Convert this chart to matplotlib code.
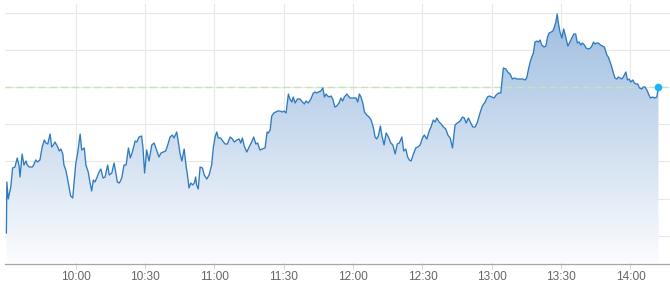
import numpy as np
import matplotlib
matplotlib.use("Agg")
import matplotlib.pyplot as plt
from matplotlib.colors import to_rgba

# minutes since 09:30
times = [0.0, 0.2, 0.8, 1.9, 2.7, 3.7, 4.7, 5.5, 5.9, 6.8, 7.6, 8.5, 9.0, 9.9, 11.2, 11.8, 12.7, 13.5,
         14.5, 15.5, 16.4, 17.1, 17.9, 18.9, 19.6, 20.3, 21.0, 22.0, 22.9, 23.6, 24.4, 24.9, 25.7, 26.4,
         27.1, 27.8, 28.7, 29.3, 30.0, 30.9, 31.9, 32.6, 33.2, 33.7, 34.4, 35.4, 36.2, 36.9, 37.6, 38.3,
         39.1, 40.1, 40.9, 41.8, 42.7, 43.8, 44.5, 45.6, 46.6, 47.3, 48.0, 48.9, 49.9, 50.9, 51.8, 52.8,
         53.6, 54.5, 55.7, 56.4, 57.4, 58.5, 59.1, 59.8, 60.7, 61.7, 62.9, 63.9, 65.0, 66.0, 66.9, 67.9,
         68.9, 69.8, 70.8, 71.8, 72.5, 73.7, 74.4, 75.1, 75.9, 76.9, 77.7, 78.5, 79.0, 79.8, 80.6, 81.3,
         81.9, 82.3, 83.0, 83.8, 84.8, 85.6, 86.7, 87.7, 88.8, 89.5, 90.3, 91.0, 91.7, 92.7, 93.6, 94.6,
         95.6, 96.8, 97.8, 98.6, 99.7, 100.7, 101.4, 102.1, 102.9, 104.0, 105.0, 106.1, 107.0, 107.9,
         108.7, 109.7, 110.7, 111.9, 112.8, 113.3, 114.1, 114.8, 115.7, 116.5, 117.4, 118.4, 119.4,
         120.1, 121.0, 122.0, 122.7, 123.5, 124.1, 124.9, 125.9, 127.0, 128.1, 128.9, 129.6, 130.6,
         131.7, 132.8, 133.5, 134.3, 135.0, 136.0, 136.9, 137.6, 138.3, 139.0, 139.7, 140.5, 141.2,
         142.1, 142.9, 143.9, 144.7, 145.5, 146.2, 147.3, 147.9, 148.7, 149.7, 150.5, 151.3, 152.0,
         152.7, 153.4, 154.2, 154.9, 155.9, 156.9, 157.8, 158.8, 159.5, 160.2, 160.9, 161.8, 162.4,
         163.4, 164.3, 165.3, 166.3, 167.2, 168.2, 169.1, 170.0, 171.1, 171.9, 172.8, 173.6, 174.3,
         175.1, 176.1, 177.1, 178.0, 179.0, 180.0, 180.8, 181.9, 182.9, 183.7, 184.7, 185.5, 186.2,
         187.2, 188.1, 189.1, 190.1, 191.0, 192.0, 193.0, 194.1, 195.1, 196.3, 197.3, 198.1, 198.9,
         199.9, 200.9, 201.8, 202.8, 203.8, 204.9, 205.9, 207.1, 208.1, 209.0, 210.0, 211.0, 211.9,
         212.9, 213.9, 215.0, 216.1, 216.9, 217.9, 218.9, 219.8, 220.8, 222.2, 223.4, 224.4, 225.1,
         225.8, 226.6, 227.3, 228.0, 228.7, 229.5, 230.2, 230.9, 231.6, 232.6, 233.4, 234.1, 234.8,
         235.7, 236.4, 237.1, 237.7, 238.3, 238.8, 239.5, 240.3, 241.1, 242.0, 242.9, 243.6, 244.6,
         245.5, 246.3, 247.0, 247.8, 248.5, 249.2, 250.1, 250.8, 251.8, 252.7, 253.3, 254.0, 254.7,
         255.4, 256.1, 257.0, 257.9, 258.7, 259.8, 260.4, 261.2, 261.9, 262.6, 263.3, 264.1, 264.8,
         265.5, 266.2, 266.9, 268.0, 268.7, 269.4, 270.1, 271.0, 271.7, 272.4, 273.2, 273.9, 274.9,
         275.6, 276.3, 277.1, 277.8, 278.6, 279.5, 280.4, 281.4, 282.1]

values = [37, 88, 71, 83, 102, 103, 112, 104, 93, 116, 105, 109, 105, 103, 103, 105, 110, 108,
          110, 123, 130, 127, 126, 136, 123, 125, 128, 124, 119, 121, 116, 105, 100, 92,
          83, 74, 72, 88, 106, 118, 136, 120, 121, 122, 105, 98, 87, 79, 90, 88,
          92, 98, 101, 92, 93, 105, 95, 97, 107, 98, 88, 87, 92, 105, 105, 122,
          112, 118, 129, 128, 133, 134, 122, 97, 120, 109, 125, 127, 120, 113, 117, 118,
          119, 125, 133, 135, 132, 138, 128, 117, 109, 121, 105, 92, 82, 87, 85, 87,
          93, 85, 81, 103, 102, 95, 91, 95, 105, 122, 133, 138, 132, 132, 129, 126,
          126, 133, 131, 128, 130, 131, 127, 132, 124, 118, 123, 128, 133, 126,
          127, 120, 121, 122, 138, 137, 140, 154, 157, 158, 159, 159, 158,
          159, 157, 176, 171, 168, 173, 167, 171, 171, 168, 166, 169, 167,
          171, 177, 178, 177, 178, 179, 182, 173, 176, 174, 173, 174, 171,
          163, 164, 167, 172, 169, 173, 176, 174, 172, 172, 172, 172, 168,
          176, 173, 167, 158, 155, 153, 150, 142, 133, 131, 134, 144, 135,
          125, 137, 133, 127, 125, 116, 126, 127, 133, 119, 121, 113, 110,
          109, 116, 122, 123, 125, 132, 135, 131, 139, 143, 150, 148, 152,
          148, 146, 143, 141, 135, 132, 122, 145, 147, 149, 153, 152, 147,
          152, 147, 143, 143, 148, 157, 164, 168, 173, 174, 173, 172, 175,
          177, 177, 202, 201, 198, 196, 191, 192, 191, 191, 191, 190, 192,
          200, 208, 213, 217, 228, 229, 228, 230, 225, 223, 224, 233, 237,
          238, 239, 243, 248, 256, 247, 238, 232, 241, 233, 224, 227, 232,
          236, 236, 227, 228, 225, 227, 225, 222, 221, 222, 224, 228, 226,
          227, 227, 225, 224, 223, 215, 213, 208, 203, 197, 192, 191, 193,
          192, 191, 193, 198, 190, 191, 188, 190, 187, 186, 186, 182, 181,
          183, 183, 180, 176, 172, 173, 172, 173, 183]

prev_close = 183
grid_step = 37.2
tick_minutes = [30, 60, 90, 120, 150, 180, 210, 240, 270]
tick_labels = ["10:00", "10:30", "11:00", "11:30", "12:00", "12:30", "13:00", "13:30", "14:00"]

t = np.array(times)
v = np.array(values)

plt.rcParams['font.family'] = ['Liberation Sans', 'DejaVu Sans']

fig = plt.figure(figsize=(6.7, 2.93), dpi=100)
ax = fig.add_axes([5 / 670, 29.5 / 293, 665 / 670, 259.5 / 293])
xmin, xmax = -0.6, 287.1
ymin, ymax = 6.5, 266
ax.set_xlim(xmin, xmax)
ax.set_ylim(ymin, ymax)

# gradient fill under line
poly = ax.fill_between(t, v, ymin, color='none', lw=0)
top = np.array(to_rgba('#9bbbdf'))
bot = np.array(to_rgba('#fbfcfe'))
n = 256
fr = np.linspace(0, 1, n)[:, None]
grad = (top[None, :] * (1 - fr) + bot[None, :] * fr)[:, None, :]
im = ax.imshow(grad, extent=[xmin, xmax, ymin, ymax], aspect='auto', origin='upper',
               zorder=1, interpolation='bilinear')
im.set_clip_path(poly.get_paths()[0], transform=ax.transData)

ax.plot(t, v, color='#2f7bc0', lw=0.95, zorder=3)
ax.axhline(prev_close, color='#c4e4b4', lw=1.0, dashes=(5, 3), zorder=2)
ax.plot(t[-1], v[-1], 'o', color='#18b4f5', ms=5.5, mec='none', zorder=4)

yt = [prev_close + grid_step * k for k in range(-4, 3)]
ax.set_yticks(yt)
ax.set_xticks(tick_minutes)
ax.set_xticklabels(tick_labels)
ax.grid(True, color='#e8e8e8', lw=0.8, zorder=0)
ax.set_axisbelow(True)
for s in ['top', 'left', 'right']:
    ax.spines[s].set_visible(False)
ax.spines['bottom'].set_color('#a6a6a6')
ax.spines['bottom'].set_linewidth(0.9)
ax.tick_params(axis='y', left=False, labelleft=False)
ax.tick_params(axis='x', length=3.6, width=0.75, color='#d8d8d8', labelcolor='#666666',
               labelsize=8.6, pad=1.6)

fig.savefig('out.png', dpi=100)
